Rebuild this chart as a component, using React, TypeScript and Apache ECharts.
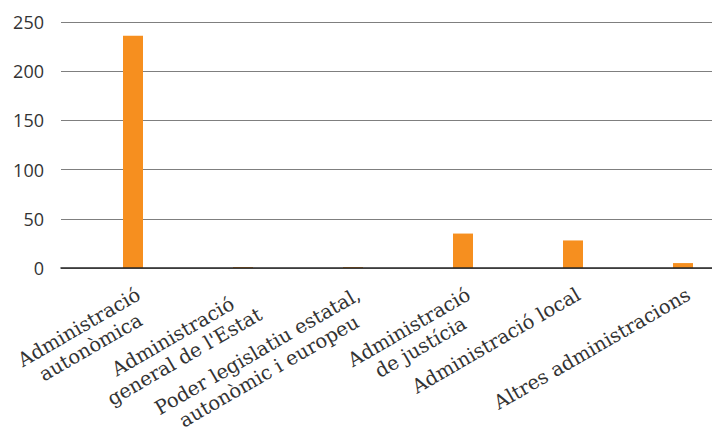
import React, { useEffect, useRef } from 'react';
import * as echarts from 'echarts';

const categories = [
  'Administració\nautonòmica',
  "Administració\ngeneral de l'Estat",
  'Poder legislatiu estatal,\nautonòmic i europeu',
  'Administració\nde justícia',
  'Administració local',
  'Altres administracions',
];
const values = [236, 1, 1, 35, 28, 5];
const yMin = 0;
const yMax = 250;
const yStep = 50;

export default function App() {
  const ref = useRef<HTMLDivElement>(null);
  useEffect(() => {
    document.body.style.margin = '0';
    if (!ref.current) return;
    const chart = echarts.init(ref.current, undefined, { renderer: 'svg' });
    const labelFont = 'DejaVu Serif';
    const fs = 19.5;
    const lh = 23;
    chart.setOption({
      animation: false,
      backgroundColor: '#ffffff',
      grid: [
        { left: 61, right: 0, top: 22, bottom: 166, outerBoundsMode: 'none', containLabel: false },
        { left: 78, width: 660, top: 22, bottom: 166, outerBoundsMode: 'none', containLabel: false },
      ],
      xAxis: [
        {
          gridIndex: 0,
          type: 'value',
          min: 0,
          max: 1,
          z: 10,
          axisLine: { show: true, onZero: false, lineStyle: { color: '#262626', width: 1.5 } },
          axisTick: { show: false },
          axisLabel: { show: false },
          splitLine: { show: false },
        },
        {
          gridIndex: 1,
          type: 'category',
          data: categories,
          axisLine: { show: false },
          axisTick: { show: false },
          axisLabel: {
            interval: 0,
            rotate: 30,
            margin: 15,
            align: 'right',
            verticalAlign: 'top',
            fontFamily: labelFont,
            fontSize: fs,
            lineHeight: lh,
            color: '#333333',
            formatter: (v: string) => v.split('\n').map((s) => `{c|${s}}`).join('\n'),
            rich: {
              c: { align: 'center', fontFamily: labelFont, fontSize: fs, lineHeight: lh, color: '#333333' },
            },
          },
        },
      ],
      yAxis: [
        {
          gridIndex: 0,
          type: 'value',
          min: yMin,
          max: yMax,
          interval: yStep,
          axisLine: { show: false },
          axisTick: { show: false },
          axisLabel: { margin: 17, fontFamily: 'Open Sans', fontSize: 18, color: '#333333' },
          splitLine: { lineStyle: { color: '#7f7f7f', width: 1 } },
        },
        { gridIndex: 1, type: 'value', min: yMin, max: yMax, show: false, splitLine: { show: false } },
      ],
      series: [
        {
          type: 'bar',
          xAxisIndex: 1,
          yAxisIndex: 1,
          data: values,
          barWidth: 20,
          itemStyle: { color: '#F68F1F' },
        },
      ],
    });
    return () => chart.dispose();
  }, []);
  return <div ref={ref} style={{ width: 712, height: 434 }} />;
}
